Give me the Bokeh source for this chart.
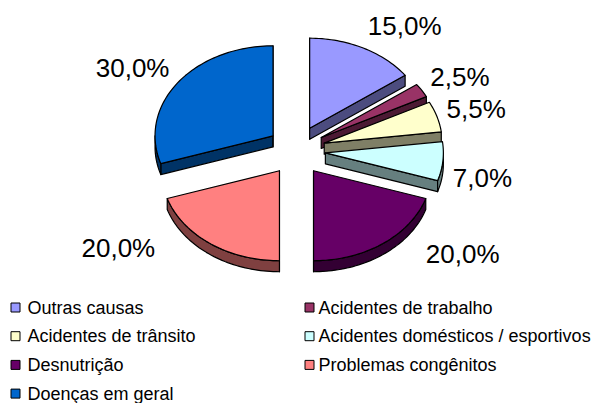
import math
from bokeh.plotting import figure
from bokeh.models import Range1d
from bokeh.embed import file_html
from bokeh.resources import INLINE
from bokeh.core.properties import value

# ---- data ----
categories = ["Outras causas", "Acidentes de trabalho", "Acidentes de trânsito",
              "Acidentes domésticos / esportivos", "Desnutrição",
              "Problemas congênitos", "Doenças em geral"]
shares = [15.0, 2.5, 5.5, 7.0, 20.0, 20.0, 30.0]
labels = ["15,0%", "2,5%", "5,5%", "7,0%", "20,0%", "20,0%", "30,0%"]
colors = ["#9999FF", "#993366", "#FFFFCC", "#CCFFFF", "#660066", "#FF8080", "#0066CC"]

# ---- layout (screen-pixel data space) ----
W, H = 592, 403
CX, CY = 296.0, 150.0
RX, RY = 118.0, 90.0
EX, EY = 29.0, 25.0
DEPTH = 11.0
LAB_X, LAB_Y = 128.0, 115.0
label_nudge = [(0, 0), (0, 0), (0, 0), (0, 14), (37, -10), (-49, -16), (0, 0)]
FONT = "Liberation Sans"


def darken(h):
    h = h.lstrip("#")
    r, g, b = (int(h[i:i + 2], 16) // 2 for i in (0, 2, 4))
    return "#%02x%02x%02x" % (r, g, b)


def pt(theta, ox, oy, r=1.0):
    t = math.radians(theta)
    return ox + r * RX * math.sin(t), oy - r * RY * math.cos(t)


def arc(a0, a1, ox, oy):
    n = max(2, int(abs(a1 - a0) / 1.5) + 1)
    return [pt(a0 + (a1 - a0) * i / (n - 1), ox, oy) for i in range(n)]


total = sum(shares)
slices = []
acc = 0.0
for i, s in enumerate(shares):
    a0 = acc / total * 360.0
    acc += s
    a1 = acc / total * 360.0
    mid = (a0 + a1) / 2
    ox = CX + EX * math.sin(math.radians(mid))
    oy = CY - EY * math.cos(math.radians(mid))
    slices.append((i, a0, a1, mid, ox, oy))

xs, ys, fills = [], [], []


def add(poly, col):
    xs.append([q[0] for q in poly])
    ys.append([q[1] for q in poly])
    fills.append(col)


for (i, a0, a1, mid, ox, oy) in sorted(slices, key=lambda s: s[5]):
    side = darken(colors[i])
    apex = (ox, oy)
    inner = pt(mid, ox, oy, 0.5)
    # radial faces
    for a in (a0, a1):
        rim = pt(a, ox, oy)
        dx, dy = rim[0] - apex[0], rim[1] - apex[1]
        vx, vy = inner[0] - apex[0], inner[1] - apex[1]
        c_in = dx * vy - dy * vx
        c_dn = dx
        if abs(dx) < 1e-6 or (c_in * c_dn) < 0:
            add([apex, rim, (rim[0], rim[1] + DEPTH), (apex[0], apex[1] + DEPTH)], side)
    # outer wall (front half)
    lo, hi = max(a0, 90.0), min(a1, 270.0)
    if lo < hi:
        top = arc(lo, hi, ox, oy)
        bot = [(q[0], q[1] + DEPTH) for q in reversed(top)]
        add(top + bot, side)
    # top face
    add([apex] + arc(a0, a1, ox, oy), colors[i])

p = figure(width=W, height=H, x_range=Range1d(0, W), y_range=Range1d(H, 0),
           output_backend="svg", toolbar_location=None, min_border=0)
p.axis.visible = False
p.grid.visible = False
p.outline_line_color = None
p.background_fill_color = "white"
p.border_fill_color = "white"

p.patches(xs, ys, fill_color=fills, line_color="black", line_width=1.2, line_join="round")

# percentage labels
for (i, a0, a1, mid, ox, oy) in slices:
    sn = math.sin(math.radians(mid))
    cs = math.cos(math.radians(mid))
    lx = ox + LAB_X * sn + label_nudge[i][0]
    ly = oy - LAB_Y * cs + label_nudge[i][1]
    p.text(x=[lx], y=[ly], text=[labels[i]], text_align="left" if sn > 0 else "right",
           text_baseline="middle", text_font=value(FONT), text_font_size="26px",
           text_color="black")

# legend
col_sq = [15.0, 309.0]
col_tx = [27.0, 318.0]
row0, row_dy = 307.0, 28.7
lx_sq, ly_sq, lx_t, ly_t = [], [], [], []
for i, c in enumerate(categories):
    r, k = divmod(i, 2)
    lx_sq.append(col_sq[k]); ly_sq.append(row0 + r * row_dy)
    lx_t.append(col_tx[k]); ly_t.append(row0 + r * row_dy)
p.rect(x=lx_sq, y=ly_sq, width=9, height=9, fill_color=colors, line_color="black", line_width=1)
p.text(x=lx_t, y=ly_t, text=categories, text_align="left", text_baseline="middle",
       text_font=value(FONT), text_font_size="18px", text_color="black")

open("out.html", "w").write(file_html(p, INLINE))
